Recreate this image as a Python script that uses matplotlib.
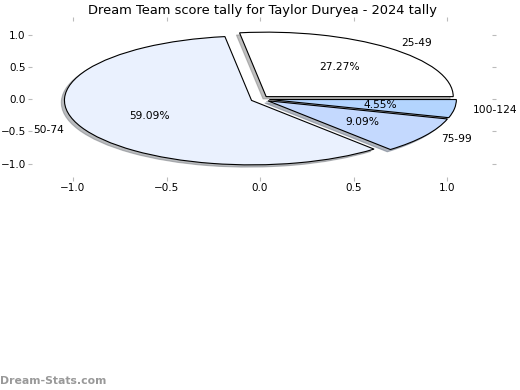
#!/usr/bin/env python
# -*- coding: utf-8 -*-

"""
Dream Team score tally pie for Taylor Duryea, 2024.
"""

import matplotlib
matplotlib.use('Agg')
from matplotlib import pyplot as plt

# data
labels = ['25-49', '50-74', '75-99', '100-124']
counts = [6, 13, 2, 1]
colors = ['#ffffff', '#eaf1fe', '#c4d9fe', '#b3d4fe']
ticks = [-1.0, -0.5, 0.0, 0.5, 1.0]
title = 'Dream Team score tally for Taylor Duryea - 2024 tally'


def main():
    fig = plt.figure(figsize=(5.2, 3.9), dpi=100)
    ax = fig.add_axes((32 / 520, 0.546, 460 / 520, 0.400))
    ax.pie(counts, labels=labels, colors=colors, autopct='%1.2f%%',
           explode=[0.05] * len(counts),
           shadow={'ox': -0.012, 'oy': -0.025, 'shade': 0.5},
           pctdistance=0.6, labeldistance=1.1,
           wedgeprops={'edgecolor': 'black', 'linewidth': 0.8},
           textprops={'fontsize': 7.7})
    ax.set_aspect('auto')
    ax.set_xlim(-1.219, 1.24)
    ax.set_ylim(-1.21, 1.21)
    ax.set_xticks(ticks)
    ax.set_yticks(ticks)
    for sp in ax.spines.values():
        sp.set_visible(False)
    ax.tick_params(top=True, right=True, color='#bbbbbb', labelsize=7.5,
                   length=3, pad=1.5)
    ax.set_title(title, fontsize=9.4, pad=5)
    fig.text(0.0, 0.01, 'Dream-Stats.com', color='#999999', fontsize=7.8,
             fontweight='bold', ha='left', va='bottom')
    fig.savefig('out.png', dpi=100)


if __name__ == '__main__':
    main()
